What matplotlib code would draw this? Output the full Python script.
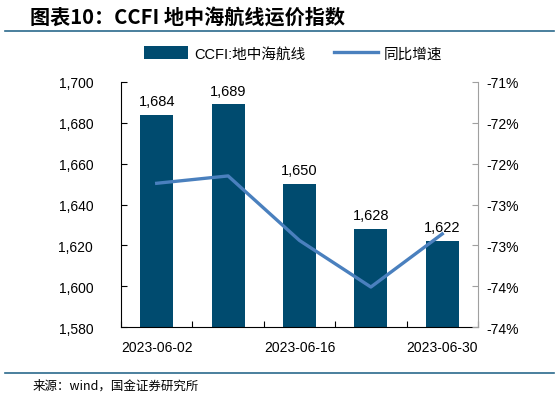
import matplotlib.pyplot as plt
import matplotlib.ticker as mticker
import numpy as np

plt.rcParams['font.family'] = ['Liberation Sans', 'Noto Sans CJK SC', 'DejaVu Sans']

dates = ['2023-06-02', '2023-06-09', '2023-06-16', '2023-06-23', '2023-06-30']
ccfi = [1684, 1689, 1650, 1628, 1622]
yoy = [-72.24, -72.15, -72.94, -73.51, -72.86]

bar_color = '#004B6F'
line_color = '#4A80BE'

fig = plt.figure(figsize=(5.59, 4.06), dpi=100)
ax = fig.add_axes([0.2165, 0.192, 0.6385, 0.6036])
ax2 = ax.twinx()

x = np.arange(len(dates))
bars = ax.bar(x, ccfi, width=0.46, color=bar_color, label='CCFI:地中海航线', zorder=2)
for xi, v in zip(x, ccfi):
    ax.annotate(f'{v:,}', (xi, v), xytext=(0, 5), textcoords='offset points',
                ha='center', va='bottom', fontsize=10.5)

ln, = ax2.plot(x, yoy, color=line_color, lw=2.4, label='同比增速', zorder=3)

ax.set_xlim(-0.5, len(dates) - 0.5)
ax.set_ylim(1580, 1700)
ax.set_yticks(np.arange(1580, 1701, 20))
ax.yaxis.set_major_formatter(mticker.FuncFormatter(lambda v, p: f'{int(v):,}'))
ax.set_xticks(np.arange(-0.5, len(dates), 1.0))
ax.set_xticklabels([])
ax.set_xticks(x[::2], minor=True)
ax.set_xticklabels([dates[i] for i in x[::2]], minor=True)
ax.tick_params(axis='x', which='minor', length=0, pad=9, labelsize=10)
ax.tick_params(axis='x', which='major', direction='in', length=4)
ax.tick_params(axis='y', direction='in', length=4, labelsize=10, pad=20)
for lab in ax.get_yticklabels():
    lab.set_horizontalalignment('right')

ax2.set_ylim(-74, -71)
ax2.set_yticks(np.arange(-74, -70.9, 0.5))
ax2.yaxis.set_major_formatter(mticker.FuncFormatter(lambda v, p: f'-{int(abs(v) + 0.5)}%'))
ax2.tick_params(axis='y', direction='in', length=4, labelsize=10, pad=6, color='#A0A0A0')

for a in (ax, ax2):
    a.spines['top'].set_visible(False)
ax.spines['right'].set_visible(False)
ax2.spines['left'].set_visible(False)
ax2.spines['bottom'].set_visible(False)
ax2.spines['right'].set_color('#A0A0A0')

fig.legend(handles=[bars, ln], loc='center', bbox_to_anchor=(0.525, 0.866), ncol=2,
           frameon=False, fontsize=10.5, handlelength=3.0, handleheight=1.0,
           columnspacing=2.0, handletextpad=0.4)

fig.text(0.054, 0.957, '图表10：CCFI 地中海航线运价指数', fontsize=14.5, fontweight='bold',
         fontstyle='italic', va='center', family=['Noto Sans CJK SC', 'DejaVu Sans'])
fig.add_artist(plt.Line2D([0.009, 0.991], [0.921, 0.921], color='#2B6A8C', lw=1.2))
fig.add_artist(plt.Line2D([0.009, 0.991], [0.080, 0.080], color='#2B6A8C', lw=1.2))
fig.text(0.059, 0.048, '来源：wind，国金证券研究所', fontsize=9, va='center',
         family=['Noto Sans CJK SC', 'DejaVu Sans'])

fig.savefig('out.png', dpi=100)
